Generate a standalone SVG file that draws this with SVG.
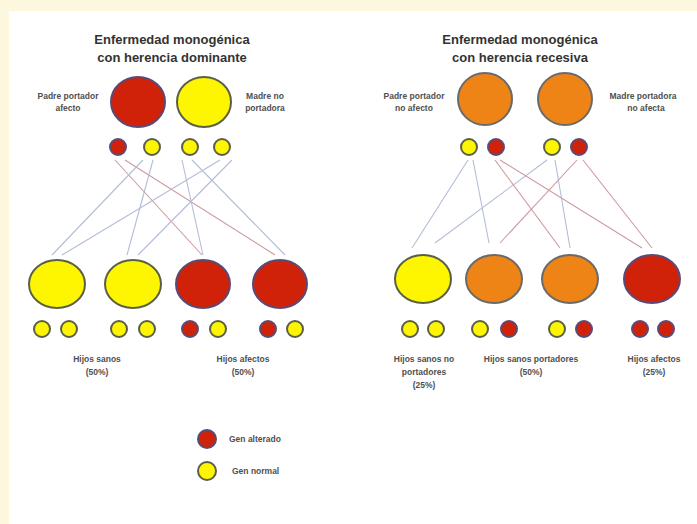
<svg xmlns="http://www.w3.org/2000/svg" width="697" height="524" viewBox="0 0 697 524">
<style>
.t{font-family:"Liberation Sans",Arial,sans-serif;font-weight:bold;font-size:13px;fill:#333;text-anchor:middle}
.l{font-family:"Liberation Sans",Arial,sans-serif;font-weight:bold;font-size:8.5px;fill:#505050;text-anchor:middle}
.lg{font-family:"Liberation Sans",Arial,sans-serif;font-weight:bold;font-size:8.5px;fill:#505050}
.R{fill:#d02208;stroke:#5a4a78;stroke-width:2}
.Y{fill:#fdf600;stroke:#5a5f45;stroke-width:2}
.O{fill:#ee8416;stroke:#6a6a6a;stroke-width:2}
.cr{stroke:#cf98a0;stroke-width:1.1;fill:none}
.cb{stroke:#b3bdd8;stroke-width:1.1;fill:none}
</style>
<rect x="0" y="0" width="697" height="524" fill="#fdf7dd"/>
<rect x="9" y="11" width="688" height="513" fill="#ffffff"/>

<g id="connectors">
<line class="cr" x1="115" y1="160" x2="202" y2="255"/>
<line class="cr" x1="125" y1="160" x2="275" y2="255"/>
<line class="cb" x1="143" y1="160" x2="52" y2="255"/>
<line class="cb" x1="153" y1="160" x2="127" y2="255"/>
<line class="cb" x1="182" y1="160" x2="203" y2="255"/>
<line class="cb" x1="192" y1="160" x2="285" y2="255"/>
<line class="cb" x1="220" y1="160" x2="62" y2="255"/>
<line class="cb" x1="232" y1="160" x2="138" y2="255"/>

<line class="cb" x1="468" y1="160" x2="412" y2="248"/>
<line class="cb" x1="473" y1="160" x2="489" y2="243"/>
<line class="cb" x1="547" y1="160" x2="435" y2="243"/>
<line class="cb" x1="555" y1="160" x2="570" y2="248"/>
<line class="cr" x1="495" y1="160" x2="560" y2="248"/>
<line class="cr" x1="500" y1="160" x2="642" y2="248"/>
<line class="cr" x1="577" y1="160" x2="500" y2="243"/>
<line class="cr" x1="583" y1="160" x2="652" y2="248"/>
</g>

<g id="title-dominante">
<text class="t" x="172" y="44">Enfermedad monogénica</text>
<text class="t" x="172" y="62">con herencia dominante</text>
</g>
<g id="title-recesiva">
<text class="t" x="520" y="44">Enfermedad monogénica</text>
<text class="t" x="520" y="62">con herencia recesiva</text>
</g>

<g id="padre-dom">
<ellipse class="R" cx="138" cy="102" rx="27" ry="25"/>
<text class="l" x="68" y="99">Padre portador</text>
<text class="l" x="68" y="111">afecto</text>
<circle class="R" cx="118" cy="147" r="8"/>
<circle class="Y" cx="152" cy="147" r="8"/>
</g>
<g id="madre-dom">
<ellipse class="Y" cx="204" cy="102" rx="27" ry="25"/>
<text class="l" x="265" y="99">Madre no</text>
<text class="l" x="265" y="111">portadora</text>
<circle class="Y" cx="190" cy="147" r="8"/>
<circle class="Y" cx="222" cy="147" r="8"/>
</g>

<g id="hijo-dom-1">
<ellipse class="Y" cx="57" cy="284" rx="28" ry="24"/>
<circle class="Y" cx="42" cy="329" r="8"/>
<circle class="Y" cx="69" cy="329" r="8"/>
</g>
<g id="hijo-dom-2">
<ellipse class="Y" cx="133" cy="284" rx="28" ry="24"/>
<circle class="Y" cx="119" cy="329" r="8"/>
<circle class="Y" cx="147" cy="329" r="8"/>
</g>
<g id="hijo-dom-3">
<ellipse class="R" cx="203" cy="284" rx="27" ry="24"/>
<circle class="R" cx="190" cy="329" r="8"/>
<circle class="Y" cx="218" cy="329" r="8"/>
</g>
<g id="hijo-dom-4">
<ellipse class="R" cx="280" cy="284" rx="27" ry="24"/>
<circle class="R" cx="268" cy="329" r="8"/>
<circle class="Y" cx="295" cy="329" r="8"/>
</g>
<g id="labels-dom">
<text class="l" x="97" y="362">Hijos sanos</text>
<text class="l" x="97" y="375">(50%)</text>
<text class="l" x="243" y="362">Hijos afectos</text>
<text class="l" x="243" y="375">(50%)</text>
</g>

<g id="legend">
<circle class="R" cx="207" cy="439" r="9"/>
<text class="lg" x="229" y="442">Gen alterado</text>
<circle class="Y" cx="207" cy="471" r="9"/>
<text class="lg" x="232" y="474">Gen normal</text>
</g>

<g id="padre-rec">
<ellipse class="O" cx="485" cy="99" rx="27" ry="26"/>
<text class="l" x="414" y="99">Padre portador</text>
<text class="l" x="414" y="111">no afecto</text>
<circle class="Y" cx="469" cy="147" r="8"/>
<circle class="R" cx="496" cy="147" r="8"/>
</g>
<g id="madre-rec">
<ellipse class="O" cx="565" cy="99" rx="27" ry="26"/>
<text class="l" x="643" y="99">Madre portadora</text>
<text class="l" x="646" y="111">no afecta</text>
<circle class="Y" cx="552" cy="147" r="8"/>
<circle class="R" cx="579" cy="147" r="8"/>
</g>

<g id="hijo-rec-1">
<ellipse class="Y" cx="423" cy="279" rx="28" ry="24"/>
<circle class="Y" cx="410" cy="329" r="8"/>
<circle class="Y" cx="436" cy="329" r="8"/>
</g>
<g id="hijo-rec-2">
<ellipse class="O" cx="494" cy="279" rx="28" ry="24"/>
<circle class="Y" cx="480" cy="329" r="8"/>
<circle class="R" cx="509" cy="329" r="8"/>
</g>
<g id="hijo-rec-3">
<ellipse class="O" cx="570" cy="279" rx="28" ry="24"/>
<circle class="Y" cx="557" cy="329" r="8"/>
<circle class="R" cx="584" cy="329" r="8"/>
</g>
<g id="hijo-rec-4">
<ellipse class="R" cx="652" cy="279" rx="28" ry="24"/>
<circle class="R" cx="640" cy="329" r="8"/>
<circle class="R" cx="666" cy="329" r="8"/>
</g>
<g id="labels-rec">
<text class="l" x="424" y="362">Hijos sanos no</text>
<text class="l" x="424" y="375">portadores</text>
<text class="l" x="424" y="388">(25%)</text>
<text class="l" x="531" y="362">Hijos sanos portadores</text>
<text class="l" x="531" y="375">(50%)</text>
<text class="l" x="654" y="362">Hijos afectos</text>
<text class="l" x="654" y="375">(25%)</text>
</g>
</svg>
